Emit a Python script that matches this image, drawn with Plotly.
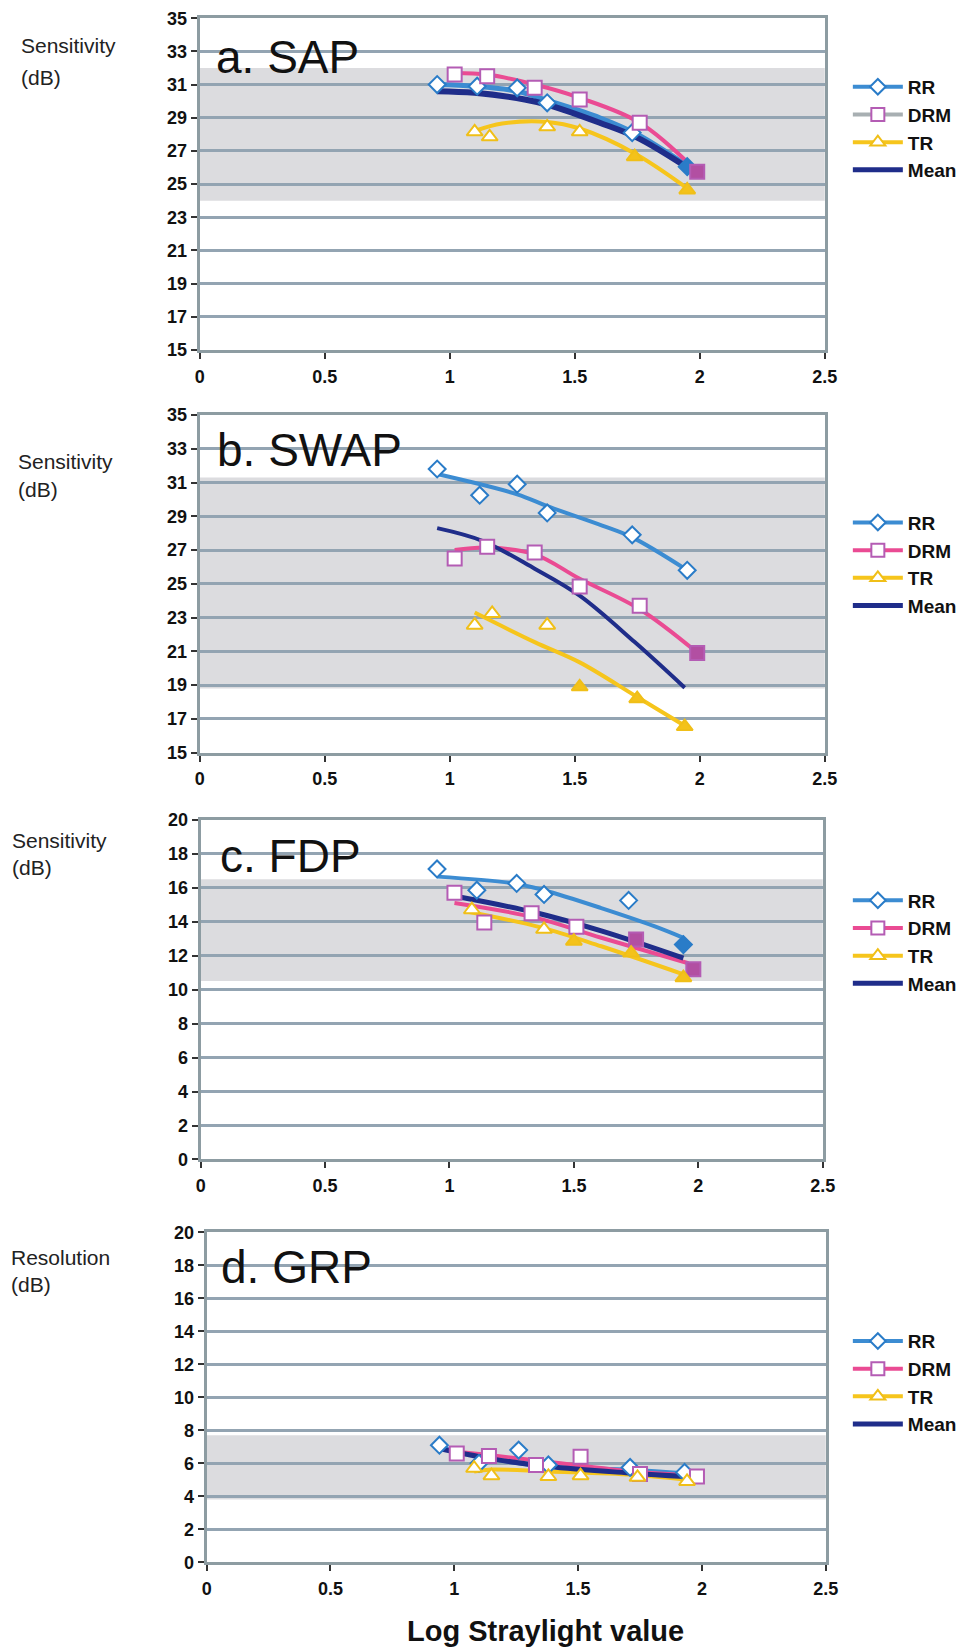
import plotly.graph_objects as go

W, H = 976, 1652

# ---------------- data ----------------
panel_titles = ["a. SAP", "b. SWAP", "c. FDP", "d. GRP"]
y_label_lines = [["Sensitivity", "(dB)"], ["Sensitivity", "(dB)"],
                 ["Sensitivity", "(dB)"], ["Resolution", "(dB)"]]
series_names = ["RR", "DRM", "TR", "Mean"]
x_title = "Log Straylight value"
x_tick_vals = [0, 0.5, 1, 1.5, 2, 2.5]
x_tick_text = ["0", "0.5", "1", "1.5", "2", "2.5"]
y_ranges = [[15, 35], [15, 35], [0, 20], [0, 20]]
y_tick_step = 2
normal_bands = [[24.0, 32.0], [18.8, 31.3], [10.5, 16.5], [3.8, 7.7]]

# a. SAP
sap_rr_x = [0.95, 1.11, 1.27, 1.39, 1.73, 1.95]
sap_rr_y = [31.0, 30.9, 30.8, 29.9, 28.1, 26.05]
sap_drm_x = [1.02, 1.15, 1.34, 1.52, 1.76, 1.99]
sap_drm_y = [31.6, 31.5, 30.8, 30.1, 28.7, 25.75]
sap_tr_x = [1.10, 1.16, 1.39, 1.52, 1.74, 1.95]
sap_tr_y = [28.15, 27.85, 28.45, 28.15, 26.65, 24.65]
sap_rr_fit_x = [0.95, 1.10, 1.27, 1.40, 1.60, 1.75, 1.95]
sap_rr_fit_y = [31.0, 30.9, 30.6, 30.0, 29.0, 28.0, 26.1]
sap_drm_fit_x = [1.02, 1.15, 1.34, 1.52, 1.76, 1.98]
sap_drm_fit_y = [31.7, 31.6, 31.0, 30.2, 28.7, 25.9]
sap_tr_fit_x = [1.10, 1.21, 1.39, 1.52, 1.74, 1.95]
sap_tr_fit_y = [28.2, 28.65, 28.75, 28.35, 26.85, 24.75]
sap_mean_x = [0.95, 1.10, 1.30, 1.40, 1.60, 1.75, 1.95]
sap_mean_y = [30.6, 30.5, 30.1, 29.75, 28.7, 27.8, 26.0]

# b. SWAP
swap_rr_x = [0.95, 1.12, 1.27, 1.39, 1.73, 1.95]
swap_rr_y = [31.8, 30.25, 30.9, 29.2, 27.9, 25.8]
swap_drm_x = [1.02, 1.15, 1.34, 1.52, 1.76, 1.99]
swap_drm_y = [26.5, 27.2, 26.85, 24.85, 23.7, 20.9]
swap_tr_x = [1.10, 1.17, 1.39, 1.52, 1.75, 1.94]
swap_tr_y = [22.55, 23.25, 22.55, 18.9, 18.2, 16.55]
swap_rr_fit_x = [0.95, 1.27, 1.39, 1.61, 1.73, 1.94]
swap_rr_fit_y = [31.5, 30.3, 29.6, 28.45, 27.75, 25.9]
swap_drm_fit_x = [1.02, 1.15, 1.34, 1.52, 1.76, 1.98]
swap_drm_fit_y = [27.0, 27.15, 26.75, 25.3, 23.5, 21.05]
swap_tr_fit_x = [1.10, 1.34, 1.52, 1.75, 1.94]
swap_tr_fit_y = [23.3, 21.55, 20.35, 18.3, 16.6]
swap_mean_x = [0.95, 1.13, 1.34, 1.52, 1.74, 1.94]
swap_mean_y = [28.3, 27.55, 25.9, 24.3, 21.55, 18.85]

# c. FDP
fdp_rr_x = [0.95, 1.11, 1.27, 1.38, 1.72, 1.94]
fdp_rr_y = [17.1, 15.85, 16.25, 15.6, 15.25, 12.65]
fdp_drm_x = [1.02, 1.14, 1.33, 1.51, 1.75, 1.98]
fdp_drm_y = [15.7, 13.95, 14.5, 13.7, 12.95, 11.2]
fdp_tr_x = [1.09, 1.38, 1.50, 1.73, 1.94]
fdp_tr_y = [14.7, 13.55, 12.85, 12.15, 10.7]
fdp_rr_fit_x = [0.95, 1.26, 1.38, 1.61, 1.82, 1.94]
fdp_rr_fit_y = [16.65, 16.25, 15.85, 14.8, 13.75, 13.05]
fdp_drm_fit_x = [1.02, 1.34, 1.61, 1.96]
fdp_drm_fit_y = [15.1, 14.25, 13.05, 11.55]
fdp_tr_fit_x = [1.07, 1.37, 1.61, 1.94]
fdp_tr_fit_y = [14.6, 13.65, 12.55, 10.9]
fdp_mean_x = [1.04, 1.34, 1.61, 1.94]
fdp_mean_y = [15.45, 14.55, 13.45, 11.85]

# d. GRP
grp_rr_x = [0.94, 1.10, 1.26, 1.38, 1.71, 1.93]
grp_rr_y = [7.1, 6.0, 6.8, 5.9, 5.75, 5.45]
grp_drm_x = [1.01, 1.14, 1.33, 1.51, 1.75, 1.98]
grp_drm_y = [6.6, 6.45, 5.9, 6.4, 5.35, 5.2]
grp_tr_x = [1.08, 1.15, 1.38, 1.51, 1.74, 1.94]
grp_tr_y = [5.7, 5.25, 5.2, 5.25, 5.15, 4.9]
grp_rr_fit_x = [0.94, 1.14, 1.38, 1.72, 1.93]
grp_rr_fit_y = [7.0, 6.3, 5.8, 5.6, 5.4]
grp_drm_fit_x = [1.01, 1.14, 1.38, 1.72, 1.97]
grp_drm_fit_y = [6.7, 6.5, 6.1, 5.5, 5.25]
grp_tr_fit_x = [1.08, 1.15, 1.38, 1.72, 1.94]
grp_tr_fit_y = [5.5, 5.62, 5.5, 5.3, 5.0]
grp_mean_x = [0.94, 1.14, 1.38, 1.72, 1.93]
grp_mean_y = [6.9, 6.3, 5.8, 5.4, 5.2]

panels_data = [
    dict(points=[(sap_rr_x, sap_rr_y), (sap_drm_x, sap_drm_y), (sap_tr_x, sap_tr_y)],
         fits=[(sap_rr_fit_x, sap_rr_fit_y), (sap_drm_fit_x, sap_drm_fit_y),
               (sap_tr_fit_x, sap_tr_fit_y), (sap_mean_x, sap_mean_y)]),
    dict(points=[(swap_rr_x, swap_rr_y), (swap_drm_x, swap_drm_y), (swap_tr_x, swap_tr_y)],
         fits=[(swap_rr_fit_x, swap_rr_fit_y), (swap_drm_fit_x, swap_drm_fit_y),
               (swap_tr_fit_x, swap_tr_fit_y), (swap_mean_x, swap_mean_y)]),
    dict(points=[(fdp_rr_x, fdp_rr_y), (fdp_drm_x, fdp_drm_y), (fdp_tr_x, fdp_tr_y)],
         fits=[(fdp_rr_fit_x, fdp_rr_fit_y), (fdp_drm_fit_x, fdp_drm_fit_y),
               (fdp_tr_fit_x, fdp_tr_fit_y), (fdp_mean_x, fdp_mean_y)]),
    dict(points=[(grp_rr_x, grp_rr_y), (grp_drm_x, grp_drm_y), (grp_tr_x, grp_tr_y)],
         fits=[(grp_rr_fit_x, grp_rr_fit_y), (grp_drm_fit_x, grp_drm_fit_y),
               (grp_tr_fit_x, grp_tr_fit_y), (grp_mean_x, grp_mean_y)]),
]

# ---------------- styles ----------------
FONT = "Liberation Sans, Arial, Helvetica, sans-serif"
line_colors = ["#3c8cd2", "#ea4b93", "#f6c51c", "#1f2d8a"]
edge_colors = ["#2a7cc8", "#b45cb4", "#f0bf18"]
fill_colors = ["#2a7cc8", "#b24fa2", "#f4c21a"]
symbols = ["diamond", "square", "triangle-up"]
msizes = [13, 14, 14]
fit_widths = [[5, 4, 4, 6], [4, 4, 4, 4], [4, 4, 4, 5], [4, 4, 4, 5]]
# which points are drawn filled (per panel, per series)
filled_idx = [
    [[5], [5], [4, 5]],
    [[], [5], [3, 4, 5]],
    [[5], [4, 5], [2, 3, 4]],
    [[], [], []],
]
legend_line_colors = [
    ["#3c8cd2", "#a8afb2", "#f6c51c", "#1f2d8a"],
    line_colors, line_colors, line_colors,
]

# target pixel geometry of the four panels: (left, right, top, bottom)
boxes = [(198, 823, 15, 347), (198, 823, 412, 750),
         (199, 821, 817, 1157), (205, 824, 1230, 1560)]
legend_row1 = [84, 520, 898, 1339]
title_pos = [(212, 54), (213, 447), (216, 853), (217, 1265)]
ylab_pos = [[(17, 42), (17, 74)], [(14, 459), (14, 487)],
            [(8, 838), (8, 865)], [(7, 1255), (7, 1282)]]
x_title_pos = (544, 1629)

# renderer calibration (page pixels -> picture pixels)
OX, SX = 3.4, 0.9814
OY, SY = 6.8, 0.9885


def fx(px):
    return ((px - OX) / SX) / W


def fy(py):
    return 1 - ((py - OY) / SY) / H


fig = go.Figure()
layout = dict(
    width=W, height=H, autosize=False,
    margin=dict(l=0, r=0, t=0, b=0),
    paper_bgcolor="white", plot_bgcolor="white",
    font=dict(family=FONT, color="black"),
    showlegend=True,
)
shapes = []
annotations = []

for p in range(4):
    sfx = "" if p == 0 else str(p + 1)
    xa, ya = "x" + sfx, "y" + sfx
    leg = "legend" + sfx
    l, r, t, b = boxes[p]
    d = panels_data[p]

    layout["xaxis" + sfx] = dict(
        domain=[fx(l), fx(r)], anchor=ya, range=[0, 2.5],
        tickvals=x_tick_vals, ticktext=x_tick_text,
        showgrid=False, zeroline=False,
        showline=True, mirror=True, linecolor="#8d9ca2", linewidth=3,
        ticks="outside", ticklen=6, tickwidth=2, tickcolor="#333",
        tickfont=dict(size=18, family=FONT, weight="bold", color="#111"),
        ticklabelstandoff=2, fixedrange=True,
    )
    lo, hi = y_ranges[p]
    layout["yaxis" + sfx] = dict(
        domain=[fy(b), fy(t)], anchor=xa, range=[lo, hi],
        tickmode="linear", tick0=lo, dtick=y_tick_step,
        showgrid=True, gridcolor="#93a4b2", gridwidth=2.5,
        zeroline=False,
        showline=True, mirror=True, linecolor="#8d9ca2", linewidth=3,
        ticks="outside", ticklen=6, tickwidth=2, tickcolor="#333",
        tickfont=dict(size=18, family=FONT, weight="bold", color="#111"),
        ticklabelstandoff=0, fixedrange=True,
    )
    layout[leg] = dict(
        x=fx(852) - 6 / W, y=fy(legend_row1[p]) + 19.5 / H,
        xanchor="left", yanchor="top",
        bgcolor="rgba(0,0,0,0)", borderwidth=0,
        font=dict(size=19, family=FONT, weight="bold", color="#111"),
        itemwidth=50, traceorder="grouped", tracegroupgap=0,
        itemclick=False, itemdoubleclick=False,
    )

    band = normal_bands[p]
    shapes.append(dict(type="rect", xref=xa + " domain", yref=ya,
                       x0=0, x1=1, y0=band[0], y1=band[1],
                       fillcolor="#dcdcdf", line=dict(width=0), layer="below"))

    # trend lines
    for s in range(4):
        fxv, fyv = d["fits"][s]
        fig.add_trace(go.Scatter(
            x=fxv, y=fyv, mode="lines", xaxis=xa, yaxis=ya,
            line=dict(color=line_colors[s], width=fit_widths[p][s], shape="spline", smoothing=1.0),
            showlegend=False, hoverinfo="skip"))
    # data markers
    for s in range(3):
        pxv, pyv = d["points"][s]
        cols = [fill_colors[s] if i in filled_idx[p][s] else "white" for i in range(len(pxv))]
        fig.add_trace(go.Scatter(
            x=pxv, y=pyv, mode="markers", xaxis=xa, yaxis=ya,
            marker=dict(symbol=symbols[s], size=msizes[s], color=cols,
                        line=dict(color=edge_colors[s], width=2)),
            showlegend=False, name=series_names[s]))
    # legend entries
    for s in range(4):
        if s < 3:
            fig.add_trace(go.Scatter(
                x=[None], y=[None], mode="lines+markers", xaxis=xa, yaxis=ya,
                name=series_names[s], legend=leg, legendgroup=f"{p}-{s}",
                line=dict(color=legend_line_colors[p][s], width=4),
                marker=dict(symbol=symbols[s], size=msizes[s] - 1, color="white",
                            line=dict(color=edge_colors[s], width=2))))
        else:
            fig.add_trace(go.Scatter(
                x=[None], y=[None], mode="lines", xaxis=xa, yaxis=ya,
                name=series_names[s], legend=leg, legendgroup=f"{p}-{s}",
                line=dict(color=legend_line_colors[p][s], width=5)))

    # panel title
    tx, ty = title_pos[p]
    annotations.append(dict(text=panel_titles[p], xref="paper", yref="paper",
                            x=fx(tx), y=fy(ty), xanchor="left", yanchor="middle",
                            showarrow=False, font=dict(size=46, family=FONT, color="#111")))
    # y-axis label (two lines)
    for k, line in enumerate(y_label_lines[p]):
        lx, lyy = ylab_pos[p][k]
        annotations.append(dict(text=line, xref="paper", yref="paper",
                                x=fx(lx), y=fy(lyy), xanchor="left", yanchor="middle",
                                showarrow=False, font=dict(size=21, family=FONT, color="#222")))

annotations.append(dict(text="<b>" + x_title + "</b>", xref="paper", yref="paper",
                        x=fx(x_title_pos[0]), y=fy(x_title_pos[1]),
                        xanchor="center", yanchor="middle",
                        showarrow=False, font=dict(size=29, family=FONT, color="#111")))

layout["shapes"] = shapes
layout["annotations"] = annotations
fig.update_layout(**layout)
fig.write_html("out.html", config={"displayModeBar": False},
               post_script="document.body.style.margin='0';document.body.style.overflow='hidden';")
